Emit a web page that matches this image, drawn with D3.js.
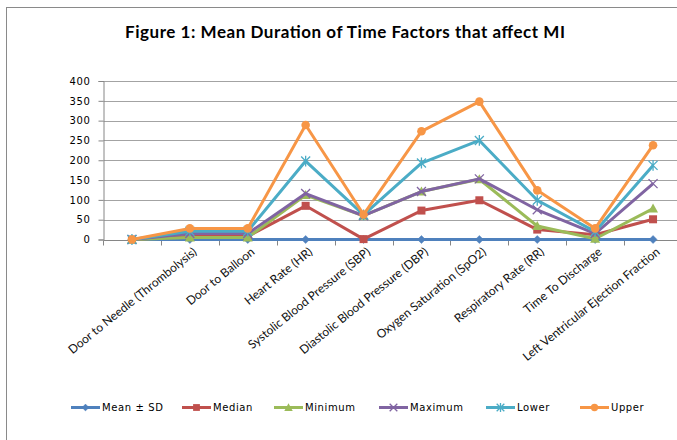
<!DOCTYPE html>
<html>
<head>
<meta charset="utf-8">
<script src="https://cdn.jsdelivr.net/npm/d3@7"></script>
<style>
  html, body { margin: 0; padding: 0; background: #fff; }
  svg { display: block; }
</style>
</head>
<body>
<svg id="chart" width="677" height="440"></svg>
<script>
const categories = ["", "Door to Needle (Thrombolysis)", "Door to Balloon", "Heart Rate (HR)",
  "Systolic Blood Pressure (SBP)", "Diastolic Blood Pressure (DBP)", "Oxygen Saturation (SpO2)",
  "Respiratory Rate  (RR)", "Time To Discharge", "Left Ventricular Ejection Fraction"];
const meanSD  = [0, 0, 0, 0, 0, 0, 0, 0, 0, 0];
const median  = [0, 8, 8, 85, 1, 73, 99, 25, 12, 51];
const minimum = [0, 5, 5, 112, 60, 121, 152, 34, 2, 78];
const maximum = [0, 15, 15, 116, 60, 121, 153, 75, 15, 141];
const lower   = [0, 21, 21, 198, 62, 193, 250, 99, 20, 187];
const upper   = [0, 28, 28, 289, 63, 273, 348, 124, 28, 238];
const yTicks  = [0, 50, 100, 150, 200, 250, 300, 350, 400];
const seriesNames = ["Mean \u00b1 SD", "Median", "Minimum", "Maximum", "Lower", "Upper"];

const series = [
  { name: seriesNames[0], values: meanSD,  color: "#4F81BD", marker: "diamond" },
  { name: seriesNames[1], values: median,  color: "#C0504D", marker: "square" },
  { name: seriesNames[2], values: minimum, color: "#9BBB59", marker: "triangle" },
  { name: seriesNames[3], values: maximum, color: "#8064A2", marker: "x" },
  { name: seriesNames[4], values: lower,   color: "#4BACC6", marker: "star" },
  { name: seriesNames[5], values: upper,   color: "#F79646", marker: "circle" }
];

const svg = d3.select("#chart");

// outer frame
svg.append("rect").attr("x", 6.5).attr("y", 7.5).attr("width", 700).attr("height", 460)
  .attr("fill", "none").attr("stroke", "#8a8a8a").attr("stroke-width", 1);

// title
svg.append("text").attr("x", 125).attr("y", 38)
  .attr("font-family", "Lato, Carlito, Calibri, sans-serif").attr("font-weight", "bold")
  .attr("font-size", "17px").attr("fill", "#000")
  .attr("textLength", 440).attr("lengthAdjust", "spacing")
  .text("Figure 1: Mean Duration of Time Factors that affect MI");

const x = d3.scaleBand().domain(categories.map((c, i) => i)).range([103, 682]);
const y = d3.scaleLinear().domain([0, 400]).range([239.5, 81]);
const cx = i => x(i) + x.bandwidth() / 2;

// gridlines
svg.append("g").selectAll("line").data(yTicks.filter(t => t > 0)).join("line")
  .attr("x1", 103.5).attr("x2", 677)
  .attr("y1", d => Math.round(y(d)) + 0.5).attr("y2", d => Math.round(y(d)) + 0.5)
  .attr("stroke", "#a3a3a3").attr("stroke-width", 1.2);

// y axis
const yAxis = d3.axisLeft(y).tickValues(yTicks).tickSize(5).tickPadding(8);
const gy = svg.append("g").attr("transform", "translate(103.5,0)").call(yAxis);
gy.select(".domain").attr("stroke", "#868686");
gy.selectAll(".tick line").attr("stroke", "#868686");
gy.selectAll(".tick text").attr("font-family", "DejaVu Sans, Verdana, sans-serif")
  .attr("font-size", "10px").attr("letter-spacing", "0.6px").attr("fill", "#000");

// x axis line and ticks between categories
const xAxisY = Math.round(y(0)) + 0.5;
svg.append("line").attr("x1", 103.5).attr("x2", 677).attr("y1", xAxisY).attr("y2", xAxisY)
  .attr("stroke", "#868686");
svg.append("g").selectAll("line").data(d3.range(categories.length + 1)).join("line")
  .attr("x1", d => Math.round(103 + d * x.step()) + 0.5)
  .attr("x2", d => Math.round(103 + d * x.step()) + 0.5)
  .attr("y1", xAxisY).attr("y2", xAxisY + 5).attr("stroke", "#868686");

// category labels
svg.append("g").selectAll("text").data(categories).join("text")
  .attr("transform", (d, i) => `translate(${cx(i) + 5},${250}) rotate(-39)`)
  .attr("text-anchor", "end").attr("dy", "0.35em")
  .attr("font-family", "Lato, Carlito, Calibri, sans-serif").attr("font-size", "12px")
  .attr("fill", "#111").text(d => d);

// marker drawing
function drawMarker(g, type, color, px, py, scale) {
  const s = scale || 1;
  if (type === "diamond") {
    const r = 4 * s;
    g.append("path").attr("d", `M${px},${py - r}L${px + r},${py}L${px},${py + r}L${px - r},${py}Z`)
      .attr("fill", color).attr("stroke", color).attr("stroke-width", 0.5);
  } else if (type === "square") {
    const r = 4 * s;
    g.append("rect").attr("x", px - r).attr("y", py - r).attr("width", 2 * r).attr("height", 2 * r)
      .attr("fill", color);
  } else if (type === "triangle") {
    const r = 5 * s;
    g.append("path").attr("d", `M${px},${py - r}L${px + r},${py + r * 0.8}L${px - r},${py + r * 0.8}Z`)
      .attr("fill", color);
  } else if (type === "x") {
    const r = 4.5 * s;
    g.append("path").attr("d", `M${px - r},${py - r}L${px + r},${py + r}M${px - r},${py + r}L${px + r},${py - r}`)
      .attr("stroke", color).attr("stroke-width", 1.3).attr("fill", "none");
  } else if (type === "star") {
    const r = 4.5 * s;
    g.append("path").attr("d", `M${px - r},${py - r}L${px + r},${py + r}M${px - r},${py + r}L${px + r},${py - r}M${px},${py - r * 1.2}L${px},${py + r * 1.2}`)
      .attr("stroke", color).attr("stroke-width", 1.3).attr("fill", "none");
  } else if (type === "circle") {
    g.append("circle").attr("cx", px).attr("cy", py).attr("r", 4.3 * s).attr("fill", color);
  }
}

const line = d3.line().x((d, i) => cx(i)).y(d => y(d));
series.forEach(s => {
  const g = svg.append("g");
  g.append("path").datum(s.values).attr("d", line)
    .attr("fill", "none").attr("stroke", s.color).attr("stroke-width", 3)
    .attr("stroke-linejoin", "round");
  s.values.forEach((v, i) => drawMarker(g, s.marker, s.color, cx(i), y(v)));
});

// legend
const legendX = [71, 182, 274, 379, 486, 580];
const legY = 407.5;
series.forEach((s, i) => {
  const g = svg.append("g");
  const x0 = legendX[i];
  g.append("line").attr("x1", x0).attr("x2", x0 + 29).attr("y1", legY).attr("y2", legY)
    .attr("stroke", s.color).attr("stroke-width", 3);
  drawMarker(g, s.marker, s.color, x0 + 14.5, legY, 0.85);
  g.append("text").attr("x", x0 + 31).attr("y", legY).attr("dy", "0.35em")
    .attr("font-family", "DejaVu Sans, Verdana, sans-serif").attr("font-size", "10px")
    .attr("letter-spacing", "0.6px").attr("fill", "#000").text(s.name);
});
</script>
</body>
</html>
